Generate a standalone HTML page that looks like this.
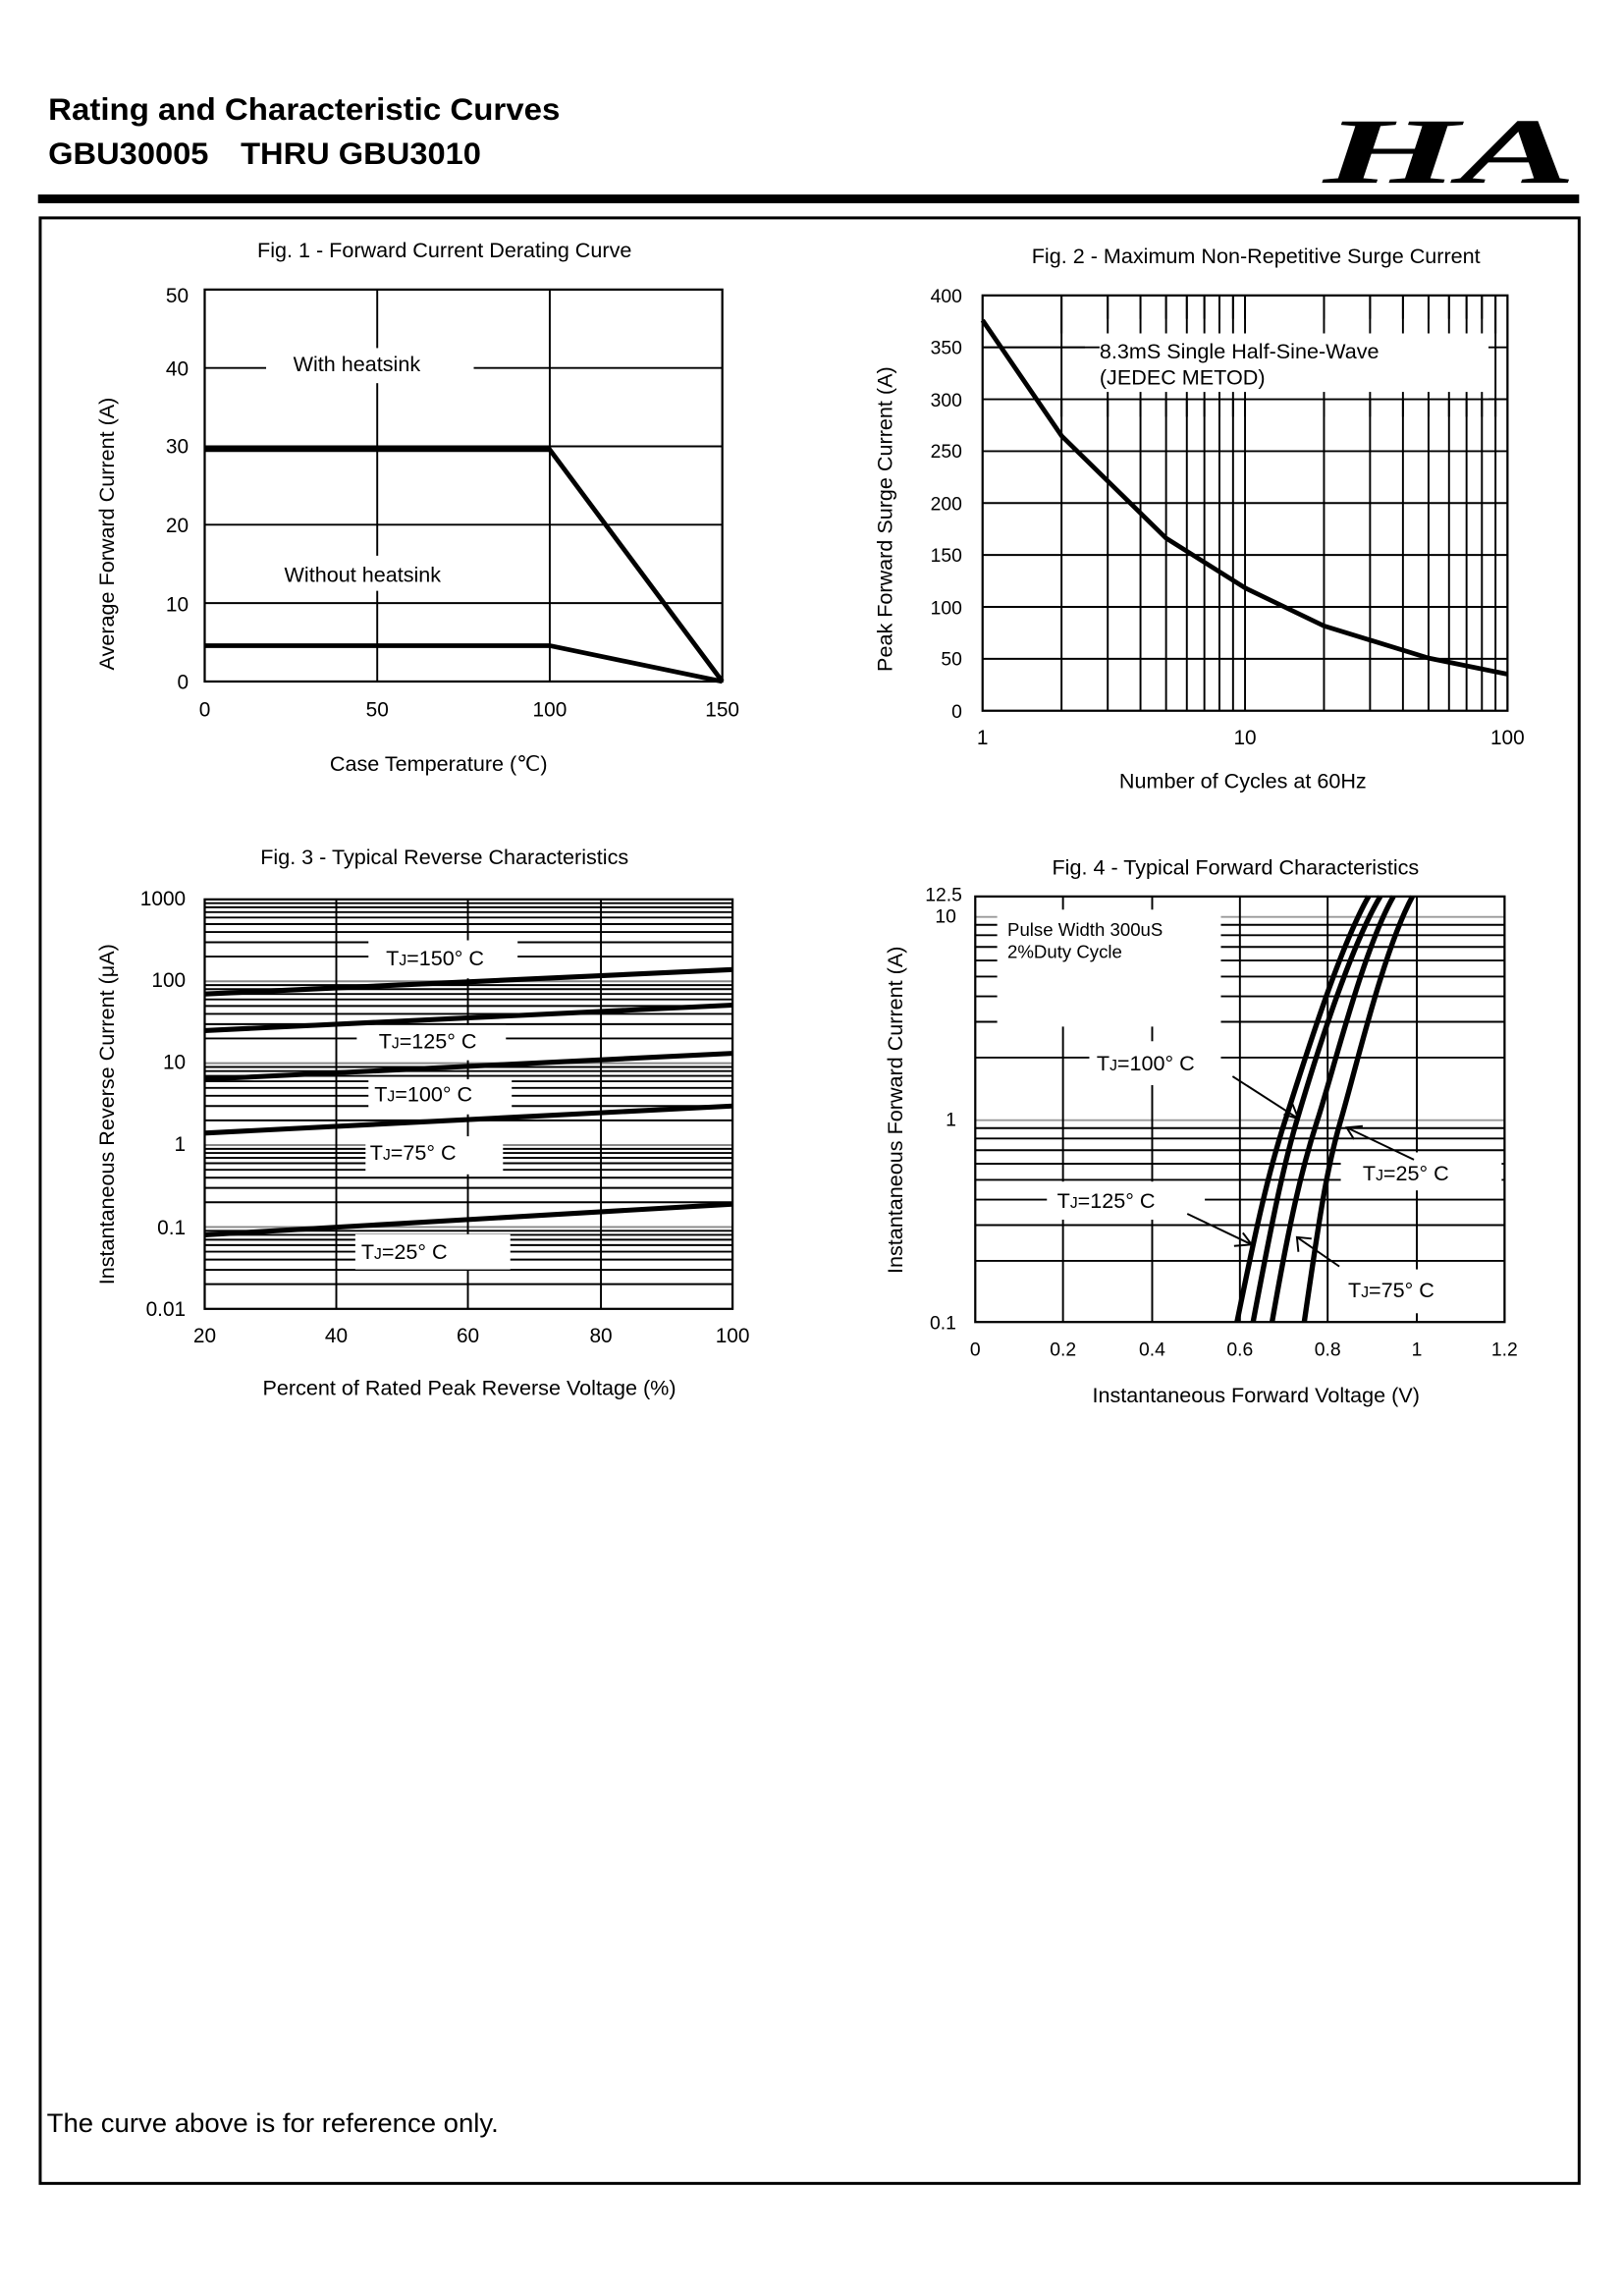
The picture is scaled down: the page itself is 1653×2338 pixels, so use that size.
<!DOCTYPE html>
<html><head><meta charset="utf-8"><style>
html,body{margin:0;padding:0;background:#fff}
svg{display:block}
text{font-family:"Liberation Sans",Arial,sans-serif;fill:#000}
</style></head><body>
<svg width="1653" height="2338" viewBox="0 0 1110 1570" preserveAspectRatio="none" xmlns="http://www.w3.org/2000/svg">
<defs>
<g id="dec3">
<path d="M140,878.1H501M140,868.3H501M140,861.3H501M140,855.9H501M140,851.4H501M140,847.7H501M140,844.4H501M140,841.6H501" stroke="#000" stroke-width="1.3"/>
<path d="M140,839H501" stroke="#888" stroke-width="1.3"/>
</g>
<g id="dec4">
<path d="M667,862.2H1029M667,837.7H1029M667,820.3H1029M667,806.8H1029M667,795.8H1029M667,786.5H1029M667,778.5H1029M667,771.4H1029" stroke="#000" stroke-width="1.3"/>
</g>
</defs>

<!-- header -->
<text x="33" y="82" font-size="21" font-weight="bold" textLength="350" lengthAdjust="spacingAndGlyphs">Rating and Characteristic Curves</text>
<text x="33" y="112" font-size="21" font-weight="bold" textLength="296" lengthAdjust="spacingAndGlyphs">GBU30005　THRU GBU3010</text>
<text x="905" y="125" font-size="64" font-weight="bold" font-style="italic" textLength="173" lengthAdjust="spacingAndGlyphs" style="font-family:'Liberation Serif',serif">HA</text>
<rect x="26" y="133" width="1054" height="6" fill="#000"/>
<rect x="27.5" y="149" width="1052.5" height="1344" fill="none" stroke="#000" stroke-width="2"/>

<!-- Fig 1 -->
<text x="304" y="176" font-size="14.5" text-anchor="middle">Fig. 1 - Forward Current Derating Curve</text>
<g stroke="#000" stroke-width="1.3">
<path d="M258,198V466M376,198V466M140,412.4H494M140,358.8H494M140,305.2H494M140,251.6H494"/>
</g>
<rect x="182" y="238" width="142" height="24" fill="#fff"/>
<rect x="180" y="380" width="140" height="24" fill="#fff"/>
<rect x="140" y="198" width="354" height="268" fill="none" stroke="#000" stroke-width="1.5"/>
<text x="244" y="254" font-size="14.5" text-anchor="middle">With heatsink</text>
<text x="248" y="398" font-size="14.5" text-anchor="middle">Without heatsink</text>
<path d="M140,307.5H376L494,466" fill="none" stroke="#000" stroke-width="3.2"/>
<path d="M140,441.5H376L494,466" fill="none" stroke="#000" stroke-width="3.2"/>
<g font-size="14" text-anchor="end">
<text x="129" y="207">50</text><text x="129" y="257">40</text><text x="129" y="310">30</text><text x="129" y="364">20</text><text x="129" y="418">10</text><text x="129" y="471">0</text>
</g>
<g font-size="14" text-anchor="middle">
<text x="140" y="490">0</text><text x="258" y="490">50</text><text x="376" y="490">100</text><text x="494" y="490">150</text>
</g>
<text x="300" y="527" font-size="14.5" text-anchor="middle">Case Temperature (℃)</text>
<text transform="translate(78,365) rotate(-90)" font-size="14.5" text-anchor="middle">Average Forward Current (A)</text>

<!-- Fig 2 -->
<text x="859" y="180" font-size="14.5" text-anchor="middle">Fig. 2 - Maximum Non-Repetitive Surge Current</text>
<g stroke="#000" stroke-width="1.3">
<path d="M726,202V486M757.6,202V486M780,202V486M797.5,202V486M811.7,202V486M823.7,202V486M834,202V486M843.3,202V486M851.5,202V486M905.5,202V486M937,202V486M959.5,202V486M977,202V486M991,202V486M1003,202V486M1013.5,202V486M1022.8,202V486"/>
<path d="M672,450.5H1031M672,415H1031M672,379.5H1031M672,344H1031M672,308.5H1031M672,273H1031M672,237.5H1031"/>
</g>
<rect x="742" y="218" width="276" height="50" fill="#fff"/>
<path d="M726,202V228M757.6,202V228M780,202V228M797.5,202V228M811.7,202V228M823.7,202V228M834,202V228M843.3,202V228M851.5,202V228M905.5,202V228M937,202V228M959.5,202V228M977,202V228M991,202V228M1003,202V228M1013.5,202V228M1022.8,202V228M1018,273H1031M672,237.5H752" stroke="#000" stroke-width="1.3"/>
<path d="M726,273V285M757.6,273V285M780,273V285M797.5,273V285M811.7,273V285M823.7,273V285M834,273V285M843.3,273V285M851.5,273V285M905.5,273V285M937,273V285M959.5,273V285M977,273V285M991,273V285M1003,273V285M1013.5,273V285M1022.8,273V285" stroke="#000" stroke-width="1.3"/>
<rect x="672" y="202" width="359" height="284" fill="none" stroke="#000" stroke-width="1.5"/>
<text x="752" y="245" font-size="14.5">8.3mS Single Half-Sine-Wave</text>
<text x="752" y="263" font-size="14.5">(JEDEC METOD)</text>
<path d="M672,219 L726,298 L797.5,368 L851.5,402 L905.5,428 L977,450 L1031,461" fill="none" stroke="#000" stroke-width="3.2" stroke-linejoin="round"/>
<g font-size="13" text-anchor="end">
<text x="658" y="207">400</text><text x="658" y="242">350</text><text x="658" y="278">300</text><text x="658" y="313">250</text><text x="658" y="349">200</text><text x="658" y="384">150</text><text x="658" y="420">100</text><text x="658" y="455">50</text><text x="658" y="491">0</text>
</g>
<g font-size="14" text-anchor="middle">
<text x="672" y="509">1</text><text x="851.5" y="509">10</text><text x="1031" y="509">100</text>
</g>
<text x="850" y="539" font-size="14.5" text-anchor="middle">Number of Cycles at 60Hz</text>
<text transform="translate(610,355) rotate(-90)" font-size="14.5" text-anchor="middle">Peak Forward Surge Current (A)</text>

<!-- Fig 3 -->
<text x="304" y="591" font-size="14.5" text-anchor="middle">Fig. 3 - Typical Reverse Characteristics</text>
<use href="#dec3"/>
<use href="#dec3" transform="translate(0,-56)"/>
<use href="#dec3" transform="translate(0,-112)"/>
<use href="#dec3" transform="translate(0,-168)"/>
<use href="#dec3" transform="translate(0,-224)"/>
<path d="M230,615V895M320,615V895M411,615V895" stroke="#000" stroke-width="1.3"/>
<g fill="#fff">
<rect x="252" y="643" width="102" height="26"/>
<rect x="244" y="701" width="102" height="24"/>
<rect x="252" y="738" width="98" height="24"/>
<rect x="250" y="777" width="94" height="26"/>
<rect x="243" y="844" width="106" height="24"/>
</g>
<rect x="140" y="615" width="361" height="280" fill="none" stroke="#000" stroke-width="1.5"/>
<g font-size="14.5">
<text x="264" y="660">T<tspan font-size="10.5">J</tspan>=150° C</text>
<text x="259" y="717">T<tspan font-size="10.5">J</tspan>=125° C</text>
<text x="256" y="753">T<tspan font-size="10.5">J</tspan>=100° C</text>
<text x="253" y="793">T<tspan font-size="10.5">J</tspan>=75° C</text>
<text x="247" y="861">T<tspan font-size="10.5">J</tspan>=25° C</text>
</g>
<g stroke="#000" stroke-width="3.4">
<path d="M140,679.7L501,663"/>
<path d="M140,704.7L501,687.3"/>
<path d="M140,738L501,720.3"/>
<path d="M140,774.8L501,756.3"/>
<path d="M140,844.4L501,823.4"/>
</g>
<g font-size="14" text-anchor="end">
<text x="127" y="619">1000</text><text x="127" y="675">100</text><text x="127" y="731">10</text><text x="127" y="787">1</text><text x="127" y="844">0.1</text><text x="127" y="900">0.01</text>
</g>
<g font-size="14" text-anchor="middle">
<text x="140" y="918">20</text><text x="230" y="918">40</text><text x="320" y="918">60</text><text x="411" y="918">80</text><text x="501" y="918">100</text>
</g>
<text x="321" y="954" font-size="14.5" text-anchor="middle">Percent of Rated Peak Reverse Voltage (%)</text>
<text transform="translate(78,762) rotate(-90)" font-size="14.5" text-anchor="middle">Instantaneous Reverse Current (μA)</text>

<!-- Fig 4 -->
<text x="845" y="598" font-size="14.5" text-anchor="middle">Fig. 4 - Typical Forward Characteristics</text>
<use href="#dec4"/>
<use href="#dec4" transform="translate(0,-139)"/>
<path d="M667,766H1029M667,627H1029" stroke="#999" stroke-width="1.3"/>
<path d="M727,613V904M788,613V904M848,613V904M908,613V904M969,613V904" stroke="#000" stroke-width="1.3"/>
<g fill="#fff">
<rect x="682" y="622" width="153" height="80"/>
<rect x="745" y="712" width="90" height="30"/>
<rect x="716" y="808" width="108" height="26"/>
<rect x="917" y="788" width="110" height="26"/>
<rect x="913" y="868" width="100" height="30"/>
</g>
<rect x="667" y="613" width="362" height="291" fill="none" stroke="#000" stroke-width="1.5"/>
<text x="689" y="640" font-size="12.5">Pulse Width 300uS</text>
<text x="689" y="655" font-size="12.5">2%Duty Cycle</text>
<g font-size="14.5">
<text x="750" y="732">T<tspan font-size="10.5">J</tspan>=100° C</text>
<text x="723" y="826">T<tspan font-size="10.5">J</tspan>=125° C</text>
<text x="932" y="807">T<tspan font-size="10.5">J</tspan>=25° C</text>
<text x="922" y="887">T<tspan font-size="10.5">J</tspan>=75° C</text>
</g>
<g fill="none" stroke="#000" stroke-width="3.6">
<path d="M846,904 C860,835 868,800 879,766 S915,650 936,613"/>
<path d="M857,904 C870,835 877,800 887,766 S922,650 944,613"/>
<path d="M870,904 C882,835 890,800 901,766 S932,650 953,613"/>
<path d="M892,904 C902,835 907,800 917,766 S946,650 966,613"/>
</g>
<g fill="none" stroke="#000" stroke-width="1.3">
<path d="M843,736L888,765M878,762L888,765L884,755"/>
<path d="M967,793L921,771M926,779L921,771L932,770"/>
<path d="M812,830L856,851M844,852L856,851L850,843"/>
<path d="M916,866L887,846M888,856L887,846L897,847"/>
</g>
<g font-size="13" text-anchor="end">
<text x="658" y="616">12.5</text><text x="654" y="631">10</text><text x="654" y="770">1</text><text x="654" y="909">0.1</text>
</g>
<g font-size="13" text-anchor="middle">
<text x="667" y="927">0</text><text x="727" y="927">0.2</text><text x="788" y="927">0.4</text><text x="848" y="927">0.6</text><text x="908" y="927">0.8</text><text x="969" y="927">1</text><text x="1029" y="927">1.2</text>
</g>
<text x="859" y="959" font-size="14.5" text-anchor="middle">Instantaneous Forward Voltage (V)</text>
<text transform="translate(617,759) rotate(-90)" font-size="14.5" text-anchor="middle">Instantaneous Forward Current (A)</text>

<text x="32" y="1458" font-size="18" textLength="309" lengthAdjust="spacingAndGlyphs">The curve above is for reference only.</text>
</svg>
</body></html>
